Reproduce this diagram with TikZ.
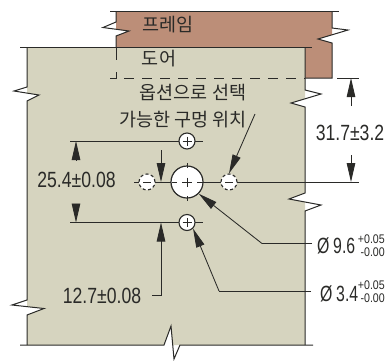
\documentclass[tikz,border=0pt]{standalone}
\usepackage{fontspec}
\usetikzlibrary{arrows.meta}
\newfontfamily\numf[FakeStretch=0.8]{Liberation Sans}
\newfontfamily\diaf[FakeStretch=0.72]{Liberation Sans}
\newfontfamily\fracf[FakeStretch=0.85]{Liberation Sans}
\newfontfamily\korf{Noto Sans CJK KR}
\definecolor{framec}{HTML}{BC8E78}
\definecolor{doorc}{HTML}{D6D4BF}
\definecolor{inkc}{HTML}{2A2A28}
\tikzset{
  outline/.style={draw=inkc,line width=1pt},
  dim/.style={draw=inkc,line width=0.85pt},
  tip/.style={dim,-{Triangle[length=19pt,width=8.5pt]}},
  num/.style={inner sep=0pt,text=inkc,font=\numf\fontsize{22}{22}\selectfont},
  dia/.style={inner sep=0pt,text=inkc,font=\diaf\fontsize{22}{22}\selectfont},
  frac/.style={inner sep=0pt,text=inkc,font=\fracf\fontsize{12.5}{13}\selectfont},
  kor/.style={inner sep=0pt,text=inkc,font=\korf\fontsize{18.5}{20}\selectfont},
  hole/.style={circle,draw=inkc,fill=white,line width=1.1pt,inner sep=0pt,minimum size=16pt},
  bighole/.style={circle,draw=inkc,fill=white,line width=1.2pt,inner sep=0pt,minimum size=32pt},
  opthole/.style={circle,draw=inkc,fill=white,line width=1.1pt,dashed,dash pattern=on 3pt off 2.5pt,inner sep=0pt,minimum size=16pt}
}
\begin{document}
\begin{tikzpicture}[x=1pt,y=-1pt]
\useasboundingbox (0,0) rectangle (385,360);
% frame
\fill[framec] (116,11) -- (332,11) -- (332,34.8) -- (318,39) -- (332,43) -- (332,78) -- (116,78) -- (116,36) -- (129,31) -- (116,29.5) -- cycle;
\draw[outline] (110,11) -- (339,11);
\draw[outline] (116,11) -- (116,22) -- (103,27.5) -- (129,31) -- (116,36) -- (116,60);
\draw[outline] (332,11) -- (332,28) -- (348,30) -- (318,39) -- (332,43) -- (332,78) -- (305,78);
% door
\fill[doorc] (27,47) -- (305,47) -- (305,98.8) -- (291,103) -- (305,107) -- (305,193) -- (289,199) -- (305,202) -- (305,345) -- (180,345) -- (172.7,345) -- (171,326) -- (164,345) -- (27,345) -- (27,315) -- (44,308.5) -- (27,306.6) -- (27,101) -- (39,95) -- (27,93.4) -- cycle;
\draw[outline] (20,47) -- (312,47);
\draw[outline] (27,47) -- (27,87) -- (14,91) -- (39,95) -- (27,101) -- (27,300) -- (12,305) -- (44,308.5) -- (27,315) -- (27,345);
\draw[outline] (20,345) -- (164,345) -- (171,326) -- (174,359) -- (180,345) -- (313,345);
\draw[outline] (305,47) -- (305,90) -- (321,94) -- (291,103) -- (305,107) -- (305,193) -- (289,199) -- (321,205) -- (305,211) -- (305,345);
\draw[outline] (116,47) -- (116,60);
\draw[outline] (116,72) -- (116,78) -- (110,78);
\draw[outline,dash pattern=on 10pt off 8pt] (124,78) -- (305,78);
% labels
\node[kor] (frame) at (168,25) {프레임};
\node[kor] (door) at (159,59) {도어};
\node[kor] (opt1) at (193,93) {옵션으로 선택};
\node[kor] (opt2) at (183,120) {가능한 구멍 위치};
% coordinates
\coordinate (c0) at (187,182);
\coordinate (top) at (187,141);
\coordinate (bot) at (187,222.5);
\coordinate (le) at (134,182);
\coordinate (ri) at (359,182);
% extension lines
\draw[dim] (70,141) -- (203,141);
\draw[dim] (70,222.5) -- (203,222.5);
\draw[dim] (le) -- (ri);
\draw[dim] (337,78) -- (359,78);
% holes
\node[bighole] (main) at (c0) {};
\node[hole] (h1) at (top) {};
\node[hole] (h2) at (bot) {};
\node[opthole] (h3) at (147,182) {};
\node[opthole] (h4) at (229,182) {};
\draw[dim] (187,163) -- (187,168);
\draw[dim] (187,177.5) -- (187,186.5);
\draw[dim] (187,196) -- (187,201);
\draw[dim] (172,182) -- (177,182) (182,182) -- (192,182) (197,182) -- (203,182);
\foreach \n in {h1,h2}{
  \draw[line width=0.8pt,draw=inkc] (\n.center) ++(-4.5,0) -- ++(9,0) (\n.center) ++(0,-4.5) -- ++(0,9);
}
\foreach \n in {h3,h4}{
  \draw[line width=0.8pt,draw=inkc] (\n.center) ++(-4,0) -- ++(8,0);
}
% dimensions
\coordinate (a1) at (76,160); \coordinate (a1t) at (76,141);
\coordinate (a2) at (76,204); \coordinate (a2t) at (76,222.5);
\draw[tip] (a1) -- (a1t);
\draw[tip] (a2) -- (a2t);
\coordinate (b1) at (161,150); \coordinate (b1t) at (161,182);
\draw[tip] (b1) -- (b1t);
\coordinate (b2) at (161,295.5); \coordinate (b2t) at (161,222.5);
\coordinate (b3) at (152,295.5);
\draw[dim] (b3) -- (b2);
\draw[tip] (b2) -- (b2t);
\coordinate (d1) at (351,106); \coordinate (d1t) at (351,78);
\draw[tip] (d1) -- (d1t);
\coordinate (d2) at (351,155); \coordinate (d2t) at (351,182);
\draw[tip] (d2) -- (d2t);
% leaders
\coordinate (l0) at (255,114);
\draw[tip] (l0) -- (h4.north);
\coordinate (m0) at (312,243.5); \coordinate (m1) at (262,243.5);
\draw[dim] (m0) -- (m1);
\draw[tip] (m1) -- (main.south east);
\coordinate (n0) at (311,291); \coordinate (n1) at (219,291);
\draw[dim] (n0) -- (n1);
\draw[tip] (n1) -- (h2.south east);
% dimension texts
\node[num] (t1) at (350,133) {31.7±3.2};
\node[num] (t2) at (76.5,180) {25.4±0.08};
\node[num] (t3) at (102,296) {12.7±0.08};
\node[dia,anchor=west] (t4) at (317,246) {Ø\hspace{3.7pt}9.6};
\node[frac,anchor=east] (t4a) at (385,239) {+0.05};
\node[frac,anchor=east] (t4b) at (385,252) {-0.00};
\node[dia,anchor=west] (t5) at (320,294) {Ø\hspace{3.7pt}3.4};
\node[frac,anchor=east] (t5a) at (385,285) {+0.05};
\node[frac,anchor=east] (t5b) at (385,298) {-0.00};
\end{tikzpicture}
\end{document}
